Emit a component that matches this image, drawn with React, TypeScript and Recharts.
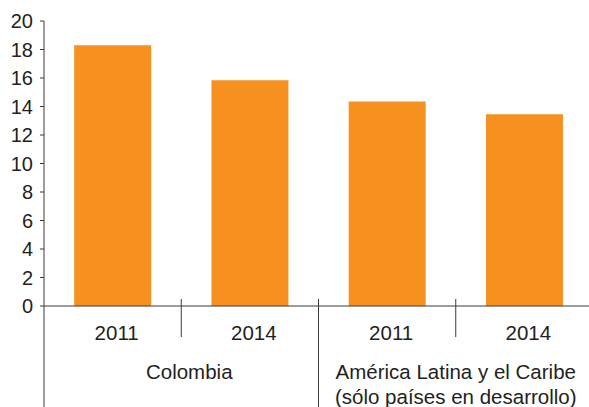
import { BarChart, Bar, XAxis, YAxis } from "recharts";

// Datos del gráfico
const YEARS = ["2011", "2014"];
const GROUP_LABELS = [
  ["Colombia"],
  ["América Latina y el Caribe", "(sólo países en desarrollo)"],
];
const VALUES = [18.3, 15.85, 14.35, 13.45];
const Y_TICKS = [0, 2, 4, 6, 8, 10, 12, 14, 16, 18, 20];

const data = VALUES.map((value, i) => ({
  year: YEARS[i % YEARS.length],
  group: Math.floor(i / YEARS.length),
  value,
}));

const CHART_W = 600;
const CHART_H = 407;
const Y_AXIS_W = 44;
const MARGIN = { top: 21, right: 7, left: 0, bottom: 0 };
const X_AXIS_H = 101;
const STEP = (CHART_W - MARGIN.left - MARGIN.right - Y_AXIS_W) / data.length;

const AXIS_COLOR = "#3a3a3a";
const TEXT_COLOR = "#231f20";
const BAR_COLOR = "#f6901e";

// Etiquetas de dos niveles (año + grupo) con separadores
function GroupedTick(props: any) {
  const { x, y, payload, index } = props;
  const row = data[index];
  const posInGroup = index % YEARS.length;
  const isGroupStart = posInGroup === 0;
  const groupLines = GROUP_LABELS[row.group];
  return (
    <g>
      <text
        x={x + 4}
        y={y + 27}
        dy="0.35em"
        textAnchor="middle"
        fill={TEXT_COLOR}
        fontSize={20.5}
      >
        {payload.value}
      </text>
      {posInGroup < YEARS.length - 1 && (
        <line
          x1={x + STEP / 2}
          x2={x + STEP / 2}
          y1={y - 7}
          y2={y + 31}
          stroke={AXIS_COLOR}
          strokeWidth={1}
        />
      )}
      {isGroupStart && (
        <line
          x1={x - STEP / 2}
          x2={x - STEP / 2}
          y1={index === 0 ? y : y - 7}
          y2={CHART_H}
          stroke={AXIS_COLOR}
          strokeWidth={1}
        />
      )}
      {isGroupStart &&
        groupLines.map((line, li) => (
          <text
            key={li}
            x={x + (STEP * (YEARS.length - 1)) / 2 + (row.group === 0 ? 8 : 0)}
            y={y + 65.5 + li * 25}
            dy="0.35em"
            textAnchor="middle"
            fill={TEXT_COLOR}
            fontSize={20.5}
          >
            {line}
          </text>
        ))}
    </g>
  );
}

export default function App() {
  return (
    <div
      style={{
        position: "absolute",
        left: 0,
        top: 0,
        width: 589,
        height: 407,
        overflow: "hidden",
        background: "#fff",
        fontFamily: "'Liberation Sans', Arial, sans-serif",
      }}
    >
      <BarChart
        width={CHART_W}
        height={CHART_H}
        data={data}
        margin={MARGIN}
        barCategoryGap="22%"
      >
        <XAxis
          dataKey="year"
          height={X_AXIS_H}
          interval={0}
          tickLine={false}
          tickSize={0}
          tickMargin={0}
          axisLine={{ stroke: AXIS_COLOR, strokeWidth: 1 }}
          tick={<GroupedTick />}
        />
        <YAxis
          width={Y_AXIS_W}
          domain={[0, 20]}
          ticks={Y_TICKS}
          interval={0}
          tickSize={4}
          tickMargin={7}
          axisLine={{ stroke: AXIS_COLOR, strokeWidth: 1 }}
          tickLine={{ stroke: AXIS_COLOR, strokeWidth: 1 }}
          tick={{ fill: TEXT_COLOR, fontSize: 20 }}
        />
        <Bar dataKey="value" fill={BAR_COLOR} isAnimationActive={false} />
      </BarChart>
    </div>
  );
}
